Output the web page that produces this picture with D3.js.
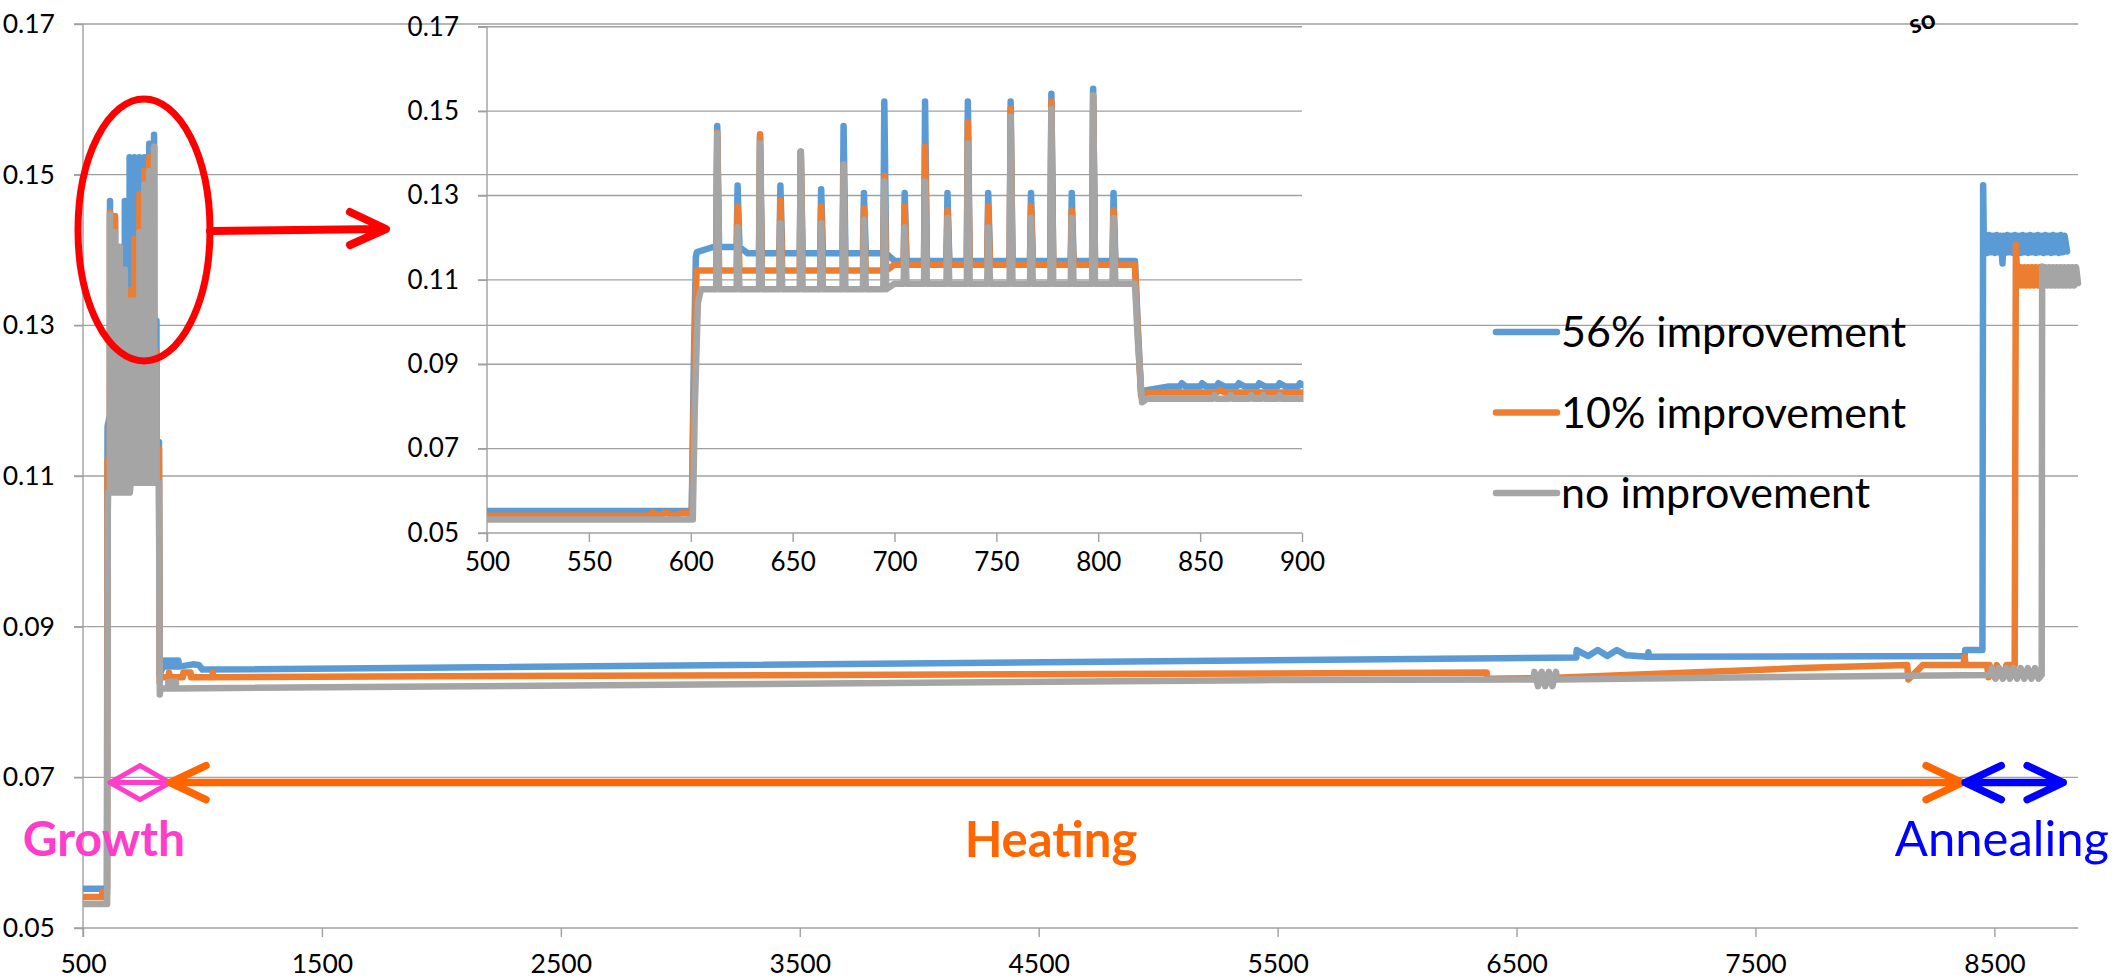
<!DOCTYPE html>
<html>
<head>
<meta charset="utf-8">
<script src="https://cdn.jsdelivr.net/npm/d3@7"></script>
<style>
  html, body { margin: 0; padding: 0; background: #fff; overflow: hidden; }
  text { font-family: Lato, "Open Sans", sans-serif; }
</style>
</head>
<body>
<div id="chart"></div>
<script>
// ---------- data ----------
const seriesNames = ["56% improvement", "10% improvement", "no improvement"];
const seriesColors = ["#5B9BD5", "#ED7D31", "#A5A5A5"];

const yTicks = [0.05, 0.07, 0.09, 0.11, 0.13, 0.15, 0.17];
const mainXTicks = [500, 1500, 2500, 3500, 4500, 5500, 6500, 7500, 8500];
const insetXTicks = [500, 550, 600, 650, 700, 750, 800, 850, 900];

// growth pulses (time of each spike) and the spike tops per series
const pulseT = [613, 623, 634, 644, 654, 664, 675, 685, 695, 705, 715, 726, 736, 746, 757, 767, 777, 787, 797.5, 807.5];
const bluePeaks   = [0.1465, 0.1324, 0.1440, 0.1324, 0.1404, 0.1315, 0.1465, 0.1306, 0.1523, 0.1306, 0.1523, 0.1306, 0.1523, 0.1306, 0.1523, 0.1306, 0.1541, 0.1306, 0.1553, 0.1306];
const orangePeaks = [0.1450, 0.1274, 0.1445, 0.1288, 0.1404, 0.1274, 0.1370, 0.1270, 0.1347, 0.1274, 0.1415, 0.1265, 0.1474, 0.1274, 0.1505, 0.1274, 0.1523, 0.1265, 0.1537, 0.1265];
const grayPeaks   = [0.1447, 0.1225, 0.1424, 0.1234, 0.1404, 0.1234, 0.1374, 0.1243, 0.1333, 0.1225, 0.1333, 0.1247, 0.1424, 0.1225, 0.1487, 0.1247, 0.1505, 0.1247, 0.1537, 0.1247];

// plateau level during growth: [from t, level]
const bluePlateau   = [[603, 0.1166], [611, 0.1178], [628, 0.1163], [700, 0.1145], [817, 0.1145]];
const orangePlateau = [[603, 0.1122], [700, 0.1136], [817, 0.1136]];
const grayPlateau   = [[605, 0.1078], [700, 0.1091], [817, 0.1091]];

// before growth
const blueBefore = [[500, 0.0552], [600.5, 0.0552], [601.5, 0.0900], [602.5, 0.1155]];
const orangeBefore = [[500, 0.0541], [580, 0.0541], [581, 0.0548], [584, 0.0541], [588, 0.0548], [592, 0.0541], [596, 0.0548], [600.5, 0.0545], [601.8, 0.0900], [602.8, 0.1118]];
const grayBefore = [[500, 0.0532], [601, 0.0532], [602, 0.0800], [603.5, 0.1045], [605, 0.1078]];

// after growth: heating and annealing
const blueAfter = [[818, 0.1145], [819.5, 0.0980], [821, 0.0836], [826, 0.0840], [834, 0.0847], [840, 0.0847], [841, 0.0855], [843, 0.0847],
  [850, 0.0847], [851, 0.0855], [853, 0.0847], [858, 0.0847], [859, 0.0855], [862, 0.0847], [868, 0.0847], [869, 0.0855], [872, 0.0847],
  [878, 0.0847], [879, 0.0855], [882, 0.0847], [888, 0.0847], [889, 0.0855], [892, 0.0847], [898, 0.0847], [899, 0.0855], [902, 0.0847],
  [960, 0.0850], [985, 0.0849], [1000, 0.0843], [6750, 0.0859], [6752, 0.0869], [6800, 0.0861],
  [6840, 0.0869], [6880, 0.0861], [6920, 0.0869], [6960, 0.0862], [7050, 0.0860], [7052, 0.0866], [7054, 0.0860], [8375, 0.0861],
  [8378, 0.0869], [8450, 0.0869], [8453, 0.1486], [8456, 0.1405], [8462, 0.1420], [8470, 0.1396], [8478, 0.1420], [8486, 0.1397],
  [8494, 0.1419], [8502, 0.1396], [8510, 0.1420], [8518, 0.1397], [8526, 0.1419], [8534, 0.1382], [8538, 0.1419], [8546, 0.1396],
  [8554, 0.1420], [8562, 0.1397], [8570, 0.1419], [8578, 0.1396], [8586, 0.1420], [8594, 0.1397], [8602, 0.1419], [8610, 0.1396],
  [8618, 0.1420], [8626, 0.1397], [8634, 0.1419], [8642, 0.1396], [8650, 0.1420], [8658, 0.1397], [8666, 0.1419], [8674, 0.1396],
  [8682, 0.1420], [8690, 0.1397], [8698, 0.1419], [8706, 0.1396], [8714, 0.1420], [8722, 0.1397], [8730, 0.1419], [8738, 0.1396],
  [8746, 0.1420], [8754, 0.1397], [8762, 0.1419], [8770, 0.1396], [8778, 0.1420], [8786, 0.1397], [8794, 0.1419], [8804, 0.1398]];

const orangeAfter = [[818, 0.1136], [819.5, 0.0970], [821, 0.0826], [824, 0.0833], [858, 0.0833], [860, 0.0839], [862, 0.0833],
  [918, 0.0833], [920, 0.0839], [950, 0.0839], [952, 0.0833], [1040, 0.0833], [1043, 0.0839], [1046, 0.0833], [6375, 0.0839],
  [6378, 0.0831], [6640, 0.0832], [7690, 0.0845], [8135, 0.0849], [8140, 0.0830], [8160, 0.0836], [8200, 0.0849], [8370, 0.0849],
  [8375, 0.0860], [8380, 0.0849], [8470, 0.0849], [8475, 0.0833], [8480, 0.0849], [8500, 0.0833], [8510, 0.0849], [8540, 0.0833],
  [8550, 0.0849], [8585, 0.0849], [8590, 0.1407], [8594, 0.1376], [8602, 0.1353], [8610, 0.1377], [8618, 0.1353], [8626, 0.1377],
  [8634, 0.1353], [8642, 0.1377], [8650, 0.1353], [8658, 0.1377], [8666, 0.1353], [8674, 0.1377], [8682, 0.1353], [8690, 0.1377],
  [8700, 0.1360]];

const grayAfter = [[818, 0.1091], [819.5, 0.0950], [821.5, 0.0810], [824, 0.0818], [856, 0.0818], [857, 0.0827], [858, 0.0818],
  [864, 0.0818], [865, 0.0827], [866, 0.0818], [874, 0.0818], [875, 0.0827], [876, 0.0818], [880, 0.0818], [881, 0.0827],
  [882, 0.0818], [888, 0.0818], [889, 0.0827], [890, 0.0818], [5420, 0.0829], [6570, 0.0830], [6575, 0.0840], [6590, 0.0821],
  [6605, 0.0840], [6620, 0.0821], [6635, 0.0840], [6650, 0.0821], [6665, 0.0840], [6670, 0.0830], [8480, 0.0836], [8490, 0.0845],
  [8505, 0.0831], [8520, 0.0845], [8535, 0.0831], [8550, 0.0845], [8565, 0.0831], [8580, 0.0845], [8595, 0.0831], [8610, 0.0845],
  [8625, 0.0831], [8640, 0.0845], [8655, 0.0831], [8670, 0.0845], [8685, 0.0831], [8698, 0.0836], [8700, 0.1378], [8706, 0.1354],
  [8714, 0.1377], [8722, 0.1353], [8730, 0.1377], [8738, 0.1353], [8746, 0.1377], [8754, 0.1353], [8762, 0.1377], [8770, 0.1353],
  [8778, 0.1377], [8786, 0.1353], [8794, 0.1377], [8802, 0.1353], [8810, 0.1377], [8818, 0.1353], [8826, 0.1377], [8834, 0.1353],
  [8842, 0.1377], [8850, 0.1356]];

// phase arrows (time span) drawn at this level
const phases = [
  { name: "Growth", from: 613, to: 864, color: "#FF3DCB" },
  { name: "Heating", from: 864, to: 8365, color: "#FF6600" },
  { name: "Annealing", from: 8378, to: 8788, color: "#0000FF" }
];
const phaseLevel = 0.0693;

// ---------- build ----------
function buildSeries(before, plateau, peaks, after) {
  const lvl = t => { let v = plateau[0][1]; plateau.forEach(p => { if (p[0] <= t) v = p[1]; }); return v; };
  const mid = plateau.map(p => [p[0], p[1]]);
  pulseT.forEach((t, i) => {
    const b = lvl(t);
    mid.push([t - 0.5, b], [t, peaks[i]], [t + 0.9, b]);
  });
  mid.sort((a, b) => a[0] - b[0]);
  return before.concat(mid, after);
}

const series = [
  buildSeries(blueBefore, bluePlateau, bluePeaks, blueAfter),
  buildSeries(orangeBefore, orangePlateau, orangePeaks, orangeAfter),
  buildSeries(grayBefore, grayPlateau, grayPeaks, grayAfter)
];

const W = 2112, H = 979;
const svg = d3.select("#chart").append("svg").attr("width", W).attr("height", H);
const gridColor = "#A0A0A0";

// main scales
const x = d3.scaleLinear().domain([500, 8850]).range([83, 2078]);
const y = d3.scaleLinear().domain([0.05, 0.17]).range([928, 24]);
// inset scales
const ix = d3.scaleLinear().domain([500, 900]).range([487, 1302]);
const iy = d3.scaleLinear().domain([0.05, 0.17]).range([533, 26.8]);

// ---- main grid + axes ----
svg.append("g").selectAll("line").data(yTicks).join("line")
  .attr("x1", 74).attr("x2", 2078)
  .attr("y1", d => y(d)).attr("y2", d => y(d))
  .attr("stroke", gridColor).attr("stroke-width", 1.4);

svg.append("line").attr("x1", x(500)).attr("x2", x(500)).attr("y1", y(0.17)).attr("y2", y(0.05) + 9)
  .attr("stroke", gridColor).attr("stroke-width", 1.4);

const yAxis = svg.append("g").attr("transform", `translate(${x(500)},0)`)
  .call(d3.axisLeft(y).tickValues(yTicks).tickSize(9).tickPadding(19).tickFormat(d3.format(".2f")));
const xAxis = svg.append("g").attr("transform", `translate(0,${y(0.05)})`)
  .call(d3.axisBottom(x).tickValues(mainXTicks).tickSize(9).tickPadding(17).tickFormat(d3.format("d")));
[yAxis, xAxis].forEach(a => {
  a.select(".domain").remove();
  a.selectAll(".tick line").attr("stroke", gridColor).attr("stroke-width", 1.4);
  a.selectAll("text").attr("font-size", 26.5).attr("fill", "#000").attr("font-family", "Lato, sans-serif");
});

// ---- inset ----
const inset = svg.append("g");
inset.append("g").selectAll("line").data(yTicks).join("line")
  .attr("x1", 478).attr("x2", 1302)
  .attr("y1", d => iy(d)).attr("y2", d => iy(d))
  .attr("stroke", gridColor).attr("stroke-width", 1.4);
inset.append("line").attr("x1", ix(500)).attr("x2", ix(500)).attr("y1", iy(0.17)).attr("y2", iy(0.05) + 9)
  .attr("stroke", gridColor).attr("stroke-width", 1.4);
const iyAxis = inset.append("g").attr("transform", `translate(${ix(500)},0)`)
  .call(d3.axisLeft(iy).tickValues(yTicks).tickSize(9).tickPadding(19).tickFormat(d3.format(".2f")));
const ixAxis = inset.append("g").attr("transform", `translate(0,${iy(0.05)})`)
  .call(d3.axisBottom(ix).tickValues(insetXTicks).tickSize(9).tickPadding(11).tickFormat(d3.format("d")));
[iyAxis, ixAxis].forEach(a => {
  a.select(".domain").remove();
  a.selectAll(".tick line").attr("stroke", gridColor).attr("stroke-width", 1.4);
  a.selectAll("text").attr("font-size", 26).attr("fill", "#000").attr("font-family", "Lato, sans-serif");
});

const defs = svg.append("defs");
defs.append("clipPath").attr("id", "clipInset").append("rect")
  .attr("x", ix(500)).attr("y", 0).attr("width", ix(900) - ix(500) + 1.5).attr("height", 560);
defs.append("clipPath").attr("id", "clipMain").append("rect")
  .attr("x", x(500)).attr("y", 0).attr("width", 2090 - x(500)).attr("height", 940);

// keep inset points up to 900 plus the first one past it, so lines run to the edge
const insetData = series.map(s => s.filter((d, i, arr) => d[0] <= 900 || (i > 0 && arr[i - 1][0] <= 900)));
const insetLine = d3.line().x(d => ix(d[0])).y(d => iy(d[1]));
inset.append("g").attr("clip-path", "url(#clipInset)")
  .selectAll("path").data(insetData).join("path")
  .attr("d", insetLine)
  .attr("fill", "none")
  .attr("stroke", (d, i) => seriesColors[i])
  .attr("stroke-width", 6.5)
  .attr("stroke-linejoin", "round")
  .attr("stroke-linecap", "round");

// ---- main series ----
const mainLine = d3.line().x(d => x(d[0])).y(d => y(d[1]));
svg.append("g").attr("clip-path", "url(#clipMain)")
  .selectAll("path").data(series).join("path")
  .attr("d", mainLine)
  .attr("fill", "none")
  .attr("stroke", (d, i) => seriesColors[i])
  .attr("stroke-width", 6.5)
  .attr("stroke-linejoin", "round")
  .attr("stroke-linecap", "round");

// ---- legend ----
const legend = svg.append("g");
seriesNames.forEach((name, i) => {
  const ly = 332 + i * 80.5;
  legend.append("line").attr("x1", 1496).attr("x2", 1557).attr("y1", ly).attr("y2", ly)
    .attr("stroke", seriesColors[i]).attr("stroke-width", 6.5).attr("stroke-linecap", "round");
  legend.append("text").attr("x", 1561).attr("y", ly + 15)
    .attr("font-size", 43).attr("fill", "#000").text(name);
});

// ---- zoom annotation (red ellipse + arrow) ----
svg.append("ellipse").attr("cx", 144).attr("cy", 230).attr("rx", 66).attr("ry", 131)
  .attr("fill", "none").attr("stroke", "#FF0000").attr("stroke-width", 7);
svg.append("path").attr("d", "M210,231 L384,229 M350,212 L386,229 L350,245")
  .attr("fill", "none").attr("stroke", "#FF0000").attr("stroke-width", 8)
  .attr("stroke-linecap", "round").attr("stroke-linejoin", "round");

// ---- phase arrows ----
const ay = y(phaseLevel);
phases.forEach(p => {
  const x0 = x(p.from), x1 = x(p.to);
  const hl = p.name === "Growth" ? 30 : 36, hw = 17;
  svg.append("path")
    .attr("d", `M${x0},${ay} L${x1},${ay} M${x0 + hl},${ay - hw} L${x0},${ay} L${x0 + hl},${ay + hw} M${x1 - hl},${ay - hw} L${x1},${ay} L${x1 - hl},${ay + hw}`)
    .attr("fill", "none").attr("stroke", p.color)
    .attr("stroke-width", p.name === "Growth" ? 5 : 7.5)
    .attr("stroke-linecap", "round").attr("stroke-linejoin", "round");
});

svg.append("text").attr("x", 104).attr("y", 856).attr("text-anchor", "middle")
  .attr("font-size", 48).attr("font-weight", "bold").attr("fill", phases[0].color).text("Growth");
svg.append("text").attr("x", 1051).attr("y", 857).attr("text-anchor", "middle")
  .attr("font-size", 49).attr("font-weight", "bold").attr("fill", phases[1].color).text("Heating");
svg.append("text").attr("x", 2109).attr("y", 856).attr("text-anchor", "end")
  .attr("font-size", 49).attr("fill", phases[2].color).text("Annealing");

// small label at the top right edge
svg.append("text").attr("transform", "translate(1912,34) rotate(-17)")
  .attr("font-size", 26).attr("font-weight", "bold").attr("fill", "#000").text("so");
</script>
</body>
</html>
